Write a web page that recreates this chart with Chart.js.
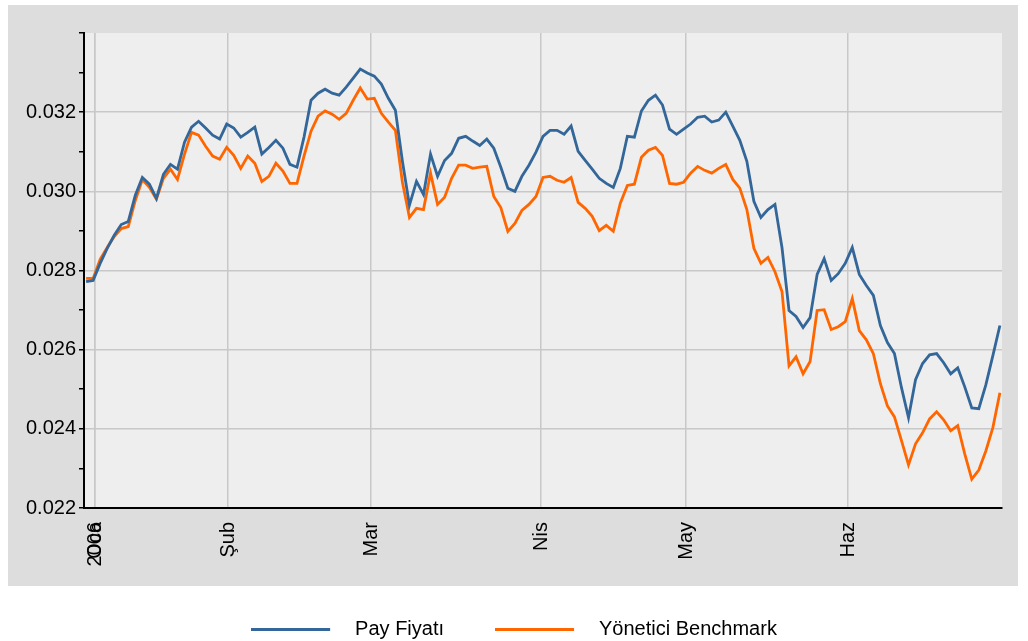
<!DOCTYPE html>
<html>
<head>
<meta charset="utf-8">
<script src="https://cdn.jsdelivr.net/npm/chart.js@4.4.0/dist/chart.umd.min.js"></script>
<style>
    html, body { margin: 0; padding: 0; background: #ffffff; }
    #wrap { width: 1028px; height: 641px; }
</style>
</head>
<body>
<div id="wrap"><canvas id="fundChart" width="1028" height="641"></canvas></div>
<script>
// month ticks, positioned on the trading-day index ("Oca" and "2006" share one spot)
const monthLabels = ['Oca', '2006', 'Şub', 'Mar', 'Nis', 'May', 'Haz'];
const monthPos = [1.28, 1.28, 20.2, 40.54, 64.72, 85.35, 108.39];

const payFiyati = [
    0.02772, 0.02775, 0.02818, 0.02856, 0.02889, 0.02916, 0.02924, 0.02990, 0.03035, 0.03018,
    0.02982, 0.03043, 0.03068, 0.03056, 0.03124, 0.03162, 0.03177, 0.03160, 0.03142, 0.03132,
    0.03170, 0.03160, 0.03137, 0.03149, 0.03162, 0.03094, 0.03111, 0.03129, 0.03109, 0.03068,
    0.03061, 0.03137, 0.03230, 0.03248, 0.03258, 0.03248, 0.03243, 0.03263, 0.03286, 0.03309,
    0.03299, 0.03291, 0.03271, 0.03235, 0.03205, 0.03076, 0.02965, 0.03025, 0.02992, 0.03094,
    0.03038, 0.03078, 0.03096, 0.03134, 0.03139, 0.03127, 0.03116, 0.03132, 0.03109, 0.03061,
    0.03008, 0.03000, 0.03038, 0.03066, 0.03099, 0.03139, 0.03154, 0.03154, 0.03144, 0.03165,
    0.03101, 0.03078, 0.03056, 0.03033, 0.03020, 0.03010, 0.03058, 0.03139, 0.03137, 0.03203,
    0.03230, 0.03243, 0.03218, 0.03157, 0.03144, 0.03157, 0.03170, 0.03187, 0.03190, 0.03175,
    0.03180, 0.03200, 0.03165, 0.03129, 0.03076, 0.02975, 0.02934, 0.02954, 0.02967, 0.02858,
    0.02699, 0.02684, 0.02656, 0.02681, 0.02790, 0.02830, 0.02775, 0.02792, 0.02818, 0.02858,
    0.02790, 0.02762, 0.02737, 0.02661, 0.02618, 0.02590, 0.02504, 0.02428, 0.02524, 0.02565,
    0.02587, 0.02590, 0.02567, 0.02539, 0.02554, 0.02506, 0.02453, 0.02451, 0.02511, 0.02585,
    0.02661
];

const benchmark = [
    0.02780, 0.02780, 0.02828, 0.02858, 0.02886, 0.02906, 0.02911, 0.02977, 0.03030, 0.03010,
    0.02980, 0.03033, 0.03056, 0.03030, 0.03094, 0.03149, 0.03142, 0.03114, 0.03089, 0.03081,
    0.03111, 0.03091, 0.03058, 0.03089, 0.03071, 0.03025, 0.03038, 0.03071, 0.03051, 0.03020,
    0.03020, 0.03089, 0.03152, 0.03190, 0.03203, 0.03195, 0.03182, 0.03197, 0.03230, 0.03261,
    0.03233, 0.03235, 0.03197, 0.03175, 0.03154, 0.03023, 0.02934, 0.02957, 0.02954, 0.03046,
    0.02967, 0.02985, 0.03033, 0.03066, 0.03066, 0.03058, 0.03061, 0.03063, 0.02987, 0.02959,
    0.02899, 0.02919, 0.02952, 0.02967, 0.02987, 0.03035, 0.03038, 0.03028, 0.03023, 0.03035,
    0.02972, 0.02957, 0.02937, 0.02901, 0.02914, 0.02899, 0.02970, 0.03015, 0.03018, 0.03086,
    0.03104, 0.03111, 0.03091, 0.03020, 0.03018, 0.03023, 0.03046, 0.03063, 0.03053, 0.03046,
    0.03058, 0.03068, 0.03030, 0.03008, 0.02954, 0.02856, 0.02818, 0.02833, 0.02797, 0.02747,
    0.02559, 0.02582, 0.02539, 0.02570, 0.02699, 0.02701, 0.02651, 0.02658, 0.02671, 0.02729,
    0.02648, 0.02625, 0.02590, 0.02514, 0.02458, 0.02430, 0.02370, 0.02309, 0.02362, 0.02390,
    0.02425, 0.02443, 0.02423, 0.02395, 0.02408, 0.02337, 0.02273, 0.02296, 0.02344, 0.02403,
    0.02491
];

const blue = '#336699';
const orange = '#ff6600';

Chart.defaults.font.family = '"Liberation Sans", Arial, sans-serif';
Chart.defaults.color = '#000000';

// labelled ticks every 0.002, small marks every 0.001, top value unlabelled
const isMajor = (v) => {
    const k = Math.round(v * 1000);
    return k % 2 === 0 && k < 34;
};

// legend swatch: a short line with some empty room after it
function legendLine(color) {
    const c = document.createElement('canvas');
    c.width = 94;
    c.height = 3;
    const g = c.getContext('2d');
    g.fillStyle = color;
    g.fillRect(0, 0, 79, 3);
    return c;
}
const legendSwatches = [legendLine(blue), legendLine(orange)];

const backdrop = {
    id: 'backdrop',
    afterLayout(chart) {
        // legend is centred on the whole page width, not the padded box
        chart.legend.right = chart.width;
    },
    beforeDraw(chart) {
        const { ctx, chartArea: a } = chart;
        ctx.save();
        ctx.fillStyle = '#dddddd';
        ctx.fillRect(8, 5, 1010, 581);
        ctx.fillStyle = '#eeeeee';
        ctx.fillRect(a.left, a.top, a.right - a.left, a.bottom - a.top);
        ctx.restore();
    }
};

const toPoints = (arr) => arr.map((v, i) => ({ x: i, y: v }));

new Chart(document.getElementById('fundChart').getContext('2d'), {
    type: 'line',
    data: {
        datasets: [{
            label: 'Pay Fiyatı',
            data: toPoints(payFiyati),
            borderColor: blue,
            backgroundColor: blue,
            borderWidth: 2.8,
            pointRadius: 0,
            tension: 0
        }, {
            label: 'Yönetici Benchmark',
            data: toPoints(benchmark),
            borderColor: orange,
            backgroundColor: orange,
            borderWidth: 2.8,
            pointRadius: 0,
            tension: 0
        }]
    },
    options: {
        responsive: false,
        animation: false,
        layout: { padding: { top: 33, right: 26, left: 0, bottom: -8 } },
        scales: {
            x: {
                type: 'linear',
                min: -0.3,
                max: 130.3,
                afterBuildTicks: (s) => { s.ticks = monthPos.map(value => ({ value })); },
                afterFit: (s) => { s.height = 60; },
                border: { display: true, color: '#000000', width: 2 },
                grid: { color: '#c8c8c8', lineWidth: 1.5, drawTicks: false },
                ticks: {
                    autoSkip: false,
                    minRotation: 90,
                    maxRotation: 90,
                    padding: 14,
                    font: { size: 20 },
                    callback: (v, i) => monthLabels[i]
                }
            },
            y: {
                min: 0.022,
                max: 0.034,
                afterFit: (s) => { s.width = 84; },
                border: { display: true, color: '#000000', width: 2 },
                grid: {
                    color: (c) => isMajor(c.tick.value) ? '#c8c8c8' : 'rgba(0,0,0,0)',
                    lineWidth: 1.5,
                    tickColor: '#000000',
                    tickLength: 5
                },
                ticks: {
                    stepSize: 0.001,
                    padding: 3,
                    font: { size: 20 },
                    callback: (v) => isMajor(v) ? v.toFixed(3) : ''
                }
            }
        },
        plugins: {
            legend: {
                position: 'bottom',
                labels: {
                    usePointStyle: true,
                    pointStyleWidth: 94,
                    padding: 51,
                    color: '#000000',
                    font: { size: 20 },
                    generateLabels: (chart) => Chart.defaults.plugins.legend.labels.generateLabels(chart)
                        .map((item, i) => ({ ...item, pointStyle: legendSwatches[i] }))
                }
            },
            tooltip: { enabled: false }
        }
    },
    plugins: [backdrop]
});
</script>
</body>
</html>
